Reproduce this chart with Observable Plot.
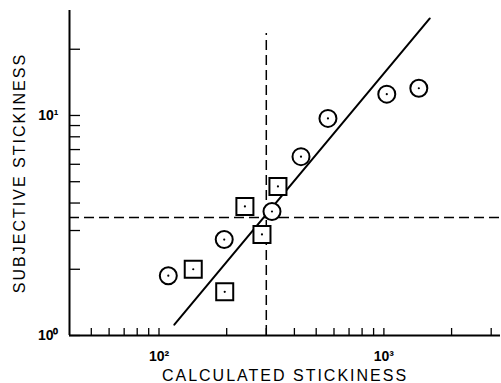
<!DOCTYPE html>
<html><head><meta charset="utf-8">
<script src="https://cdn.jsdelivr.net/npm/d3@7"></script>
<script src="https://cdn.jsdelivr.net/npm/@observablehq/plot@0.6"></script>
<style>
body{margin:0;background:#fff;}
</style></head><body><div id="chart"></div>
<script>
// Data
const circleX = [110, 195, 318, 428, 564, 1030, 1430];
const circleY = [1.87, 2.73, 3.66, 6.5, 9.7, 12.5, 13.3];
const squareX = [142, 196, 241, 287, 338];
const squareY = [2.0, 1.58, 3.86, 2.88, 4.76];
const fitX = [117, 1600];
const fitY = [1.12, 27.6];
const refX = 300, refXTop = 23.6;
const refY = 3.44;
const xDomain = [40, 3300];
const yDomain = [1, 30];
const xTicks = [50, 60, 70, 80, 90, 100, 200, 300, 400, 500, 600, 700, 800, 900, 1000, 2000, 3000];
const yTicks = [1, 2, 3, 4, 5, 6, 7, 8, 9, 10, 20];
const xTitle = "CALCULATED STICKINESS";
const yTitle = "SUBJECTIVE STICKINESS";

const sup = {"0": "\u2070", "1": "\u00B9", "2": "\u00B2", "3": "\u00B3"};
const fmt = d => {
  const e = Math.round(Math.log10(d));
  return Math.abs(Math.log10(d) - e) < 1e-9 ? "10" + sup[String(e)] : "";
};

const circles = circleX.map((x, i) => ({x, y: circleY[i]}));
const squares = squareX.map((x, i) => ({x, y: squareY[i]}));
const fit = fitX.map((x, i) => ({x, y: fitY[i]}));

const chart = Plot.plot({
  width: 501, height: 383,
  marginLeft: 69, marginRight: 1, marginTop: 10, marginBottom: 48,
  style: {fontFamily: "'Liberation Sans', Arial, sans-serif", fontSize: "13px", color: "black", background: "white"},
  x: {type: "log", domain: xDomain},
  y: {type: "log", domain: yDomain},
  marks: [
    Plot.ruleY([refY], {stroke: "black", strokeWidth: 1.5, strokeDasharray: "10,5"}),
    Plot.ruleX([refX], {y1: yDomain[0], y2: refXTop, stroke: "black", strokeWidth: 1.5, strokeDasharray: "10,5"}),
    Plot.line(fit, {x: "x", y: "y", stroke: "black", strokeWidth: 2}),
    Plot.axisX(xTicks, {tickSize: -7, tickPadding: 23, tickFormat: fmt, fontWeight: "bold", fontSize: 14, strokeWidth: 1.3, label: null}),
    Plot.axisY(yTicks, {tickSize: -11, tickPadding: 22, tickFormat: fmt, fontWeight: "bold", fontSize: 14, strokeWidth: 1.3, label: null}),
    Plot.ruleY([yDomain[0]], {stroke: "black", strokeWidth: 2}),
    Plot.ruleX([xDomain[0]], {stroke: "black", strokeWidth: 2}),
    Plot.dot(circles, {x: "x", y: "y", symbol: "circle", r: 8.5, stroke: "black", strokeWidth: 2, fill: "white"}),
    Plot.dot(squares, {x: "x", y: "y", symbol: "square", r: 9.6, stroke: "black", strokeWidth: 2, fill: "white"}),
    Plot.dot(circles.concat(squares), {x: "x", y: "y", r: 1.1, fill: "black", stroke: null}),
    Plot.text([xTitle], {frameAnchor: "bottom", dy: 40, text: d => d, fontSize: 16, lineAnchor: "middle", textAnchor: "middle"}),
    Plot.text([yTitle], {frameAnchor: "left", dx: -50, rotate: -90, text: d => d, fontSize: 16, lineAnchor: "middle", textAnchor: "middle"})
  ]
});
d3.select(chart).selectAll("text").filter(function () { return this.textContent.includes("STICKINESS"); })
  .style("letter-spacing", "2px");
d3.select(chart).selectAll("text").filter(function () { return /^10/.test(this.textContent); })
  .style("font-size", "14px").style("font-weight", "bold");
document.getElementById("chart").appendChild(chart);
</script></body></html>
